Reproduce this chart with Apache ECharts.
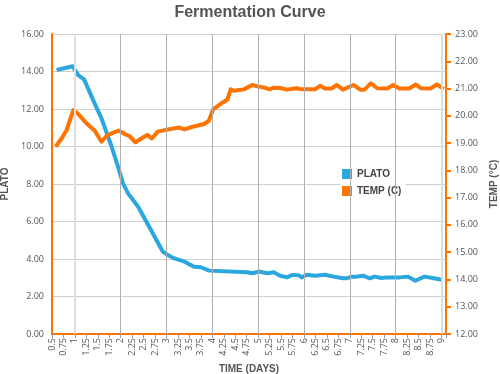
<!DOCTYPE html>
<html>
<head>
<meta charset="utf-8">
<script src="https://cdn.jsdelivr.net/npm/echarts@6/dist/echarts.min.js"></script>
<style>html,body{margin:0;padding:0;background:#fff}#c{width:500px;height:374px}</style>
</head>
<body>
<div id="c"></div>
<script>
var titleText = 'Fermentation Curve';
var platoDays = [0.60,0.95,1.07,1.20,1.43,1.58,1.80,1.94,2.05,2.16,2.38,2.66,2.92,3.03,3.17,3.39,3.60,3.75,3.93,4.76,4.87,5.01,5.20,5.34,5.48,5.63,5.74,5.88,5.95,6.06,6.24,6.46,6.64,6.86,6.93,7.04,7.15,7.29,7.44,7.54,7.69,7.80,8.09,8.27,8.43,8.63,8.81,9.03];
var platoValues = [14.08,14.28,13.81,13.58,12.3,11.5,10.0,8.93,8.03,7.5,6.79,5.55,4.39,4.21,4.03,3.86,3.59,3.56,3.38,3.29,3.24,3.33,3.24,3.29,3.11,3.02,3.15,3.14,3.02,3.16,3.11,3.16,3.06,2.97,2.97,3.06,3.06,3.11,2.97,3.06,2.99,3.02,3.02,3.06,2.84,3.06,2.99,2.88];
var tempDays = [0.58,0.71,0.82,0.965,1.07,1.25,1.43,1.58,1.69,1.80,1.95,2.09,2.19,2.32,2.45,2.58,2.68,2.81,3.03,3.28,3.39,3.57,3.82,3.92,4.02,4.22,4.33,4.40,4.47,4.69,4.87,5.01,5.12,5.25,5.34,5.48,5.63,5.84,5.95,6.24,6.35,6.46,6.60,6.72,6.85,7.08,7.23,7.32,7.46,7.60,7.82,7.95,8.08,8.30,8.44,8.55,8.76,8.90,9.05];
var tempValues = [18.87,19.17,19.48,20.21,20.07,19.73,19.46,19.05,19.26,19.36,19.46,19.33,19.26,19.03,19.17,19.3,19.17,19.42,19.5,19.57,19.5,19.6,19.7,19.81,20.24,20.48,20.6,20.97,20.92,20.97,21.13,21.07,21.04,20.97,21.03,21.02,20.96,21.01,20.97,20.97,21.1,21.0,21.0,21.13,20.96,21.13,20.96,20.96,21.19,21.01,21.0,21.13,21.0,21.0,21.15,21.01,21.0,21.15,20.98];
var dayGridLines = [1,2,3,4,5,6,7,8,9];
var seriesNames = ['PLATO','TEMP (C)'];
var xName = 'TIME (DAYS)', yLeftName = 'PLATO', yRightName = 'TEMP (°C)';

function zip(a,b){return a.map(function(v,i){return [v,b[i]];});}
var blue = '#2ba7df', orange = '#ff7300';
var chart = echarts.init(document.getElementById('c'), null, {renderer:'canvas'});
var tickFont = {fontFamily:'Open Sans, sans-serif', fontSize:9, color:'#555'};
var nameFont = {fontFamily:'Liberation Sans, Arial',fontWeight:'bold',fontSize:10,color:'#555'};
chart.setOption({
  animation:false,
  title:{text:titleText,left:'center',top:0,textStyle:{fontFamily:'Liberation Sans, Arial',fontWeight:'bold',fontSize:16,color:'#545456'}},
  grid:{left:52,right:54,top:34,bottom:40,containLabel:false,outerBoundsMode:'none'},
  legend:{orient:'vertical',left:340,top:167,backgroundColor:'#fff',padding:[2,4,2,2],itemWidth:10,itemHeight:10,itemGap:7,icon:'rect',
    data:seriesNames,textStyle:{fontFamily:'Liberation Sans, Arial',fontWeight:'bold',fontSize:10,color:'#444'}},
  xAxis:{type:'value',min:0.5,max:9.1,interval:0.25,
    name:xName,nameLocation:'middle',nameGap:30,nameTextStyle:nameFont,
    axisLine:{lineStyle:{color:orange,width:2}},axisTick:{show:true,length:4,lineStyle:{color:'#999'}},
    axisLabel:Object.assign({rotate:90,margin:4,hideOverlap:false,showMinLabel:true,showMaxLabel:true,
      formatter:function(v){var q=Math.round(v*4);return Math.abs(q/4-v)<1e-6?String(q/4):'';}},tickFont),
    splitLine:{show:false}},
  yAxis:[
    {type:'value',min:0,max:16,interval:2,position:'left',
      name:yLeftName,nameLocation:'middle',nameGap:40,nameTextStyle:nameFont,
      axisLine:{show:true,lineStyle:{color:orange,width:2}},axisTick:{show:false},
      axisLabel:Object.assign({margin:8,formatter:function(v){return v.toFixed(2);}},tickFont),
      splitLine:{lineStyle:{color:'#cfcfcf',width:1}}},
    {type:'value',min:12,max:23,interval:1,position:'right',
      name:yRightName,nameLocation:'middle',nameGap:42,nameTextStyle:nameFont,
      axisLine:{show:true,lineStyle:{color:orange,width:2}},axisTick:{show:true,length:5,lineStyle:{color:orange,width:2}},
      axisLabel:Object.assign({margin:9,formatter:function(v){return v.toFixed(2);}},tickFont),
      splitLine:{show:false}}
  ],
  series:[
    {name:'grid',type:'line',data:[],z:1,silent:true,
      markLine:{silent:true,symbol:'none',label:{show:false},animation:false,
        data:dayGridLines.map(function(d){var edge=(d===1||d===9);return {xAxis:d,lineStyle:{type:'solid',color:edge?'#dedede':'#b0b0b0',width:edge?2:1}};})}},
    {name:seriesNames[0],type:'line',yAxisIndex:0,data:zip(platoDays,platoValues),showSymbol:false,symbol:'none',z:3,
      lineStyle:{color:blue,width:4,join:'round'},itemStyle:{color:blue}},
    {name:seriesNames[1],type:'line',yAxisIndex:1,data:zip(tempDays,tempValues),showSymbol:false,symbol:'none',z:3,
      lineStyle:{color:orange,width:4,join:'round'},itemStyle:{color:orange}}
  ]
});
</script>
</body>
</html>
